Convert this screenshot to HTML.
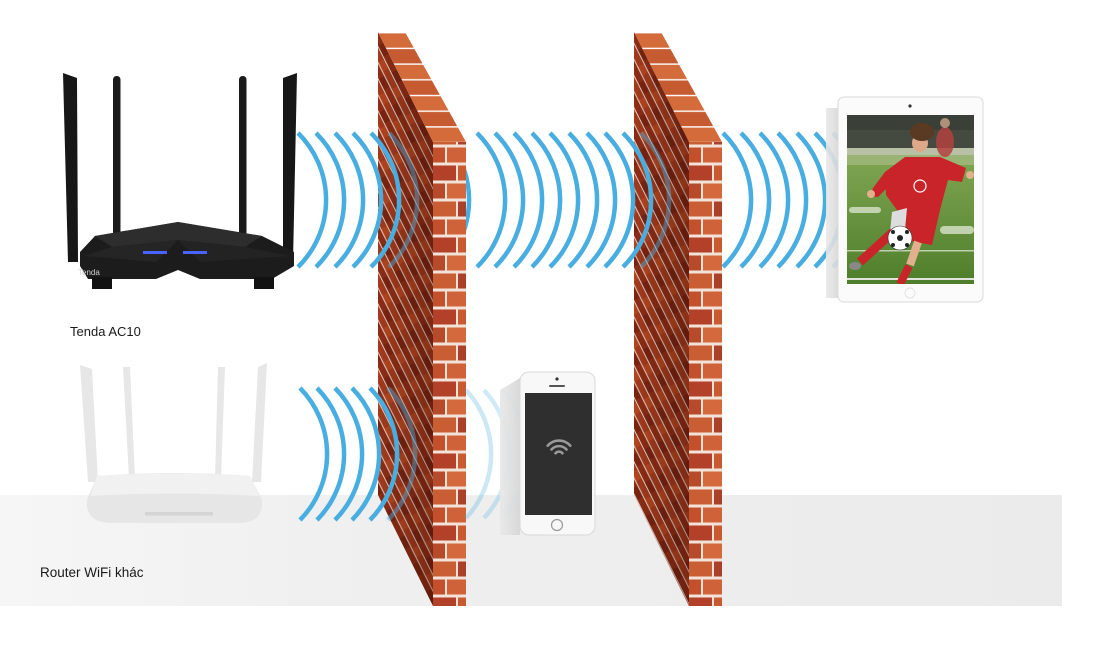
<!DOCTYPE html>
<html><head><meta charset="utf-8"><style>
html,body{margin:0;padding:0;background:#fff;}
svg{display:block;}
text{font-family:"Liberation Sans",Arial,sans-serif;}
</style></head><body>
<svg width="1099" height="645" viewBox="0 0 1099 645" xmlns="http://www.w3.org/2000/svg">
<defs>
  <linearGradient id="floor" x1="0" y1="0" x2="1" y2="0">
    <stop offset="0" stop-color="#f6f6f6"/>
    <stop offset="0.35" stop-color="#efefef"/>
    <stop offset="1" stop-color="#ebebeb"/>
  </linearGradient>
  <pattern id="fp" patternUnits="userSpaceOnUse" width="14.4" height="30" patternTransform="rotate(-26.57)">
    <rect width="14.4" height="30" fill="#a23a1c"/>
    <rect x="0" y="0" width="7.2" height="30" fill="#8c2d15"/>
    <rect x="0" y="0" width="7.2" height="12" fill="#7a2410"/>
    <rect x="7.2" y="15" width="7.2" height="10" fill="#b2451f"/>
    <rect x="0" y="0" width="0.9" height="30" fill="#fff" opacity="0.85"/>
    <rect x="7.2" y="0" width="0.9" height="30" fill="#fff" opacity="0.85"/>
  </pattern>
  <linearGradient id="fshade" x1="0" y1="0" x2="1" y2="0">
    <stop offset="0" stop-color="#000" stop-opacity="0"/>
    <stop offset="1" stop-color="#2a0500" stop-opacity="0.3"/>
  </linearGradient>
  <pattern id="tp" patternUnits="userSpaceOnUse" x="0" y="32" width="60" height="31.4">
    <rect width="60" height="31.4" fill="#fff"/>
    <rect y="1.4" width="60" height="14.3" fill="#d36c3a"/>
    <rect y="17.1" width="60" height="14.3" fill="#c65a30"/>
  </pattern>
  <pattern id="rb1" patternUnits="userSpaceOnUse" x="433" y="146" width="33" height="72">
    <rect width="33" height="72" fill="#f2e2d8"/>
    <rect x="0" y="1.5" width="12" height="15" fill="#c2502c"/>
    <rect x="14" y="1.5" width="19" height="15" fill="#cf6238"/>
    <rect x="0" y="19.5" width="23" height="15" fill="#b3412a"/>
    <rect x="25" y="19.5" width="8" height="15" fill="#c85a32"/>
    <rect x="0" y="37.5" width="12" height="15" fill="#b84a2c"/>
    <rect x="14" y="37.5" width="19" height="15" fill="#d46a3c"/>
    <rect x="0" y="55.5" width="23" height="15" fill="#c95e34"/>
    <rect x="25" y="55.5" width="8" height="15" fill="#a9402a"/>
  </pattern>
  <pattern id="rb2" patternUnits="userSpaceOnUse" x="689" y="146" width="33" height="72">
    <rect width="33" height="72" fill="#f2e2d8"/>
    <rect x="0" y="1.5" width="12" height="15" fill="#c2502c"/>
    <rect x="14" y="1.5" width="19" height="15" fill="#cf6238"/>
    <rect x="0" y="19.5" width="23" height="15" fill="#b3412a"/>
    <rect x="25" y="19.5" width="8" height="15" fill="#c85a32"/>
    <rect x="0" y="37.5" width="12" height="15" fill="#b84a2c"/>
    <rect x="14" y="37.5" width="19" height="15" fill="#d46a3c"/>
    <rect x="0" y="55.5" width="23" height="15" fill="#c95e34"/>
    <rect x="25" y="55.5" width="8" height="15" fill="#a9402a"/>
  </pattern>
  <clipPath id="c466"><rect x="466" y="0" width="300" height="645"/></clipPath>
  <clipPath id="scr"><rect x="847" y="115" width="127" height="169"/></clipPath>
  <linearGradient id="field" x1="0" y1="0" x2="0" y2="1">
    <stop offset="0" stop-color="#8fb25e"/>
    <stop offset="1" stop-color="#4e7e2b"/>
  </linearGradient>
  <linearGradient id="side" x1="0" y1="0" x2="1" y2="0">
    <stop offset="0" stop-color="#e8e8e8"/>
    <stop offset="1" stop-color="#d6d6d6"/>
  </linearGradient>
</defs>

<rect width="1099" height="645" fill="#fff"/>
<rect x="0" y="495" width="1062" height="111" fill="url(#floor)"/>

<!-- Tenda router -->
<g>
  <polygon points="63,73 77,78 78,262 68,262" fill="#171717"/>
  <polygon points="283,78 297,73 293,262 283,262" fill="#171717"/>
  <rect x="113" y="76" width="7.5" height="165" rx="3.5" fill="#1b1b1b"/>
  <rect x="239" y="76" width="7.5" height="165" rx="3.5" fill="#1b1b1b"/>
  <polygon points="80,252 95,236 178,222 262,236 294,252 294,266 272,279 200,279 178,270 156,279 88,279 80,266" fill="#1c1c1c"/>
  <polygon points="95,236 178,222 262,236 245,247 178,240 112,247" fill="#2d2d2d"/>
  <polygon points="178,240 245,247 290,256 200,262" fill="#232323"/>
  <polygon points="178,240 112,247 84,256 156,262" fill="#252525"/>
  <rect x="92" y="277" width="20" height="12" fill="#121212"/>
  <rect x="254" y="277" width="20" height="12" fill="#121212"/>
  <rect x="143" y="251" width="24" height="3" fill="#4a63ff"/>
  <rect x="183" y="251" width="24" height="3" fill="#4a63ff"/>
  <text x="78" y="275" font-size="8" fill="#d0d0d0" font-family="Liberation Serif,serif">Tenda</text>
</g>
<text x="70" y="336" font-size="13" fill="#1a1a1a">Tenda AC10</text>

<!-- Ghost router -->
<g>
  <polygon points="80,365 92,369 98,482 88,482" fill="#e7e7e7"/>
  <polygon points="123,367 130,367 135,478 129,478" fill="#e7e7e7"/>
  <polygon points="218,367 225,367 221,478 215,478" fill="#e7e7e7"/>
  <polygon points="258,367 267,363 261,482 252,482" fill="#e7e7e7"/>
  <path d="M97,476 Q174,470 250,476 L262,500 Q264,523 238,523 L112,523 Q85,523 87,500 Z" fill="#e6e6e6"/>
  <path d="M97,476 Q174,471 250,476 L259,496 Q174,491 90,496 Z" fill="#f1f1f1"/>
  <rect x="145" y="512" width="68" height="3.5" fill="#d4d4d4"/>
</g>
<text x="40" y="577" font-size="13.5" fill="#1a1a1a">Router WiFi khác</text>

<!-- Wall 1 -->
<g>
  <polygon points="378,32 405,32 466,142 433,142" fill="url(#tp)"/>
  <polygon points="378,32 433,142 433,606 378,495" fill="url(#fp)"/>
  <polygon points="378,32 433,142 433,606 378,495" fill="url(#fshade)"/>
  <rect x="433" y="142" width="33" height="464" fill="url(#rb1)"/>
</g>
<!-- Wall 2 -->
<g>
  <polygon points="634,32 661,32 722,142 689,142" fill="url(#tp)"/>
  <polygon points="634,32 689,142 689,606 634,495" fill="url(#fp)"/>
  <polygon points="634,32 689,142 689,606 634,495" fill="url(#fshade)"/>
  <rect x="689" y="142" width="33" height="464" fill="url(#rb2)"/>
</g>

<!-- Waves -->
<g fill="none" stroke="#48ade0" stroke-width="4.5">
  <!-- group 1 -->
  <path d="M298,133 A94,94 0 0 1 298,267"/>
  <path d="M316,133 A94,94 0 0 1 316,267"/>
  <path d="M335,133 A94,94 0 0 1 335,267"/>
  <path d="M353,133 A94,94 0 0 1 353,267"/>
  <path d="M371,133 A94,94 0 0 1 371,267"/>
  <path d="M389,133 A94,94 0 0 1 389,267" opacity="0.45"/>
  <!-- group 2 -->
  <path d="M441,133 A94,94 0 0 1 441,267" clip-path="url(#c466)"/>
  <path d="M477,133 A94,94 0 0 1 477,267"/>
  <path d="M495,133 A94,94 0 0 1 495,267"/>
  <path d="M514,133 A94,94 0 0 1 514,267"/>
  <path d="M532,133 A94,94 0 0 1 532,267"/>
  <path d="M550,133 A94,94 0 0 1 550,267"/>
  <path d="M569,133 A94,94 0 0 1 569,267"/>
  <path d="M587,133 A94,94 0 0 1 587,267"/>
  <path d="M605,133 A94,94 0 0 1 605,267"/>
  <path d="M623,133 A94,94 0 0 1 623,267"/>
  <path d="M641,133 A94,94 0 0 1 641,267" opacity="0.45"/>
  <!-- group 3 -->
  <path d="M723,133 A94,94 0 0 1 723,267"/>
  <path d="M741,133 A94,94 0 0 1 741,267"/>
  <path d="M760,133 A94,94 0 0 1 760,267"/>
  <path d="M778,133 A94,94 0 0 1 778,267"/>
  <path d="M797,133 A94,94 0 0 1 797,267"/>
  <path d="M815,133 A94,94 0 0 1 815,267"/>
  <path d="M833,133 A94,94 0 0 1 833,267"/>
  <!-- group 4 -->
  <path d="M300,388 A94,94 0 0 1 300,520"/>
  <path d="M317,388 A94,94 0 0 1 317,520"/>
  <path d="M335,388 A94,94 0 0 1 335,520"/>
  <path d="M352,388 A94,94 0 0 1 352,520"/>
  <path d="M370,388 A94,94 0 0 1 370,520"/>
  <path d="M388,388 A94,94 0 0 1 388,520" opacity="0.45"/>
  <path d="M466,390 A94,94 0 0 1 466,518" opacity="0.28"/>
  <path d="M484,390 A94,94 0 0 1 484,518" opacity="0.25"/>
  <path d="M502,390 A94,94 0 0 1 502,518" opacity="0.22"/>
</g>

<!-- Phone -->
<g>
  <polygon points="500,390 520,378 520,535 500,535" fill="url(#side)" opacity="0.92"/>
  <rect x="520" y="372" width="75" height="163" rx="9" fill="#f8f8f8" stroke="#d8d8d8" stroke-width="1"/>
  <rect x="525" y="393" width="67" height="122" fill="#2f2f2f"/>
  <circle cx="557" cy="379" r="1.6" fill="#333"/>
  <rect x="549" y="385" width="16" height="2" rx="1" fill="#555"/>
  <circle cx="557" cy="525" r="5.5" fill="none" stroke="#999" stroke-width="1.2"/>
  <g fill="none" stroke="#9a9a9a" stroke-width="2.6" stroke-linecap="round">
    <path d="M547.7,445.7 A15,15 0 0 1 570.3,445.7"/>
    <path d="M551.5,449.5 A10,10 0 0 1 566.5,449.5"/>
    <path d="M555.5,453.3 A4.5,4.5 0 0 1 562.5,453.3"/>
  </g>
</g>

<!-- Tablet -->
<g>
  <rect x="826" y="108" width="14" height="190" fill="url(#side)" opacity="0.9"/>
  <rect x="838" y="97" width="145" height="205" rx="6" fill="#fbfbfb" stroke="#dadada" stroke-width="1"/>
  <circle cx="910" cy="106" r="1.6" fill="#333"/>
  <circle cx="910" cy="293" r="5" fill="none" stroke="#e2e2e2" stroke-width="1"/>
  <g clip-path="url(#scr)">
    <rect x="847" y="115" width="127" height="169" fill="url(#field)"/>
    <rect x="847" y="115" width="127" height="35" fill="#3a3f37"/>
    <rect x="847" y="130" width="127" height="18" fill="#4b5245" opacity="0.6"/>
    <rect x="847" y="148" width="127" height="7" fill="#b8c0a6"/>
    <rect x="847" y="155" width="127" height="10" fill="#a7bb84" opacity="0.7"/>
    <rect x="849" y="207" width="32" height="6" rx="3" fill="#e8eee0" opacity="0.7"/>
    <rect x="940" y="226" width="34" height="8" rx="4" fill="#e8eee0" opacity="0.7"/>
    <rect x="847" y="250" width="127" height="1.5" fill="#e8eee0" opacity="0.7"/>
    <rect x="847" y="278" width="127" height="2" fill="#f0f0f0" opacity="0.9"/>
    <ellipse cx="945" cy="142" rx="9" ry="15" fill="#b2413f" opacity="0.85"/>
    <circle cx="945" cy="123" r="5" fill="#c9a58a" opacity="0.8"/>
    <!-- player -->
    <polygon points="885,172 905,157 940,157 966,168 962,182 948,180 940,210 932,245 905,240 897,210 886,195" fill="#c8242a"/>
    <polygon points="885,172 873,188 870,196 878,197 891,184" fill="#c8242a"/>
    <circle cx="871" cy="194" r="4" fill="#e3b08e"/>
    <circle cx="970" cy="175" r="4" fill="#e3b08e"/>
    <ellipse cx="920" cy="143" rx="8" ry="9" fill="#e0a88a"/>
    <ellipse cx="922" cy="132" rx="12" ry="9" fill="#5a3a22"/>
    <circle cx="920" cy="186" r="6" fill="none" stroke="#fff" stroke-width="1.2"/>
    <polygon points="892,212 907,208 905,230 890,232" fill="#ddd"/>
    <line x1="893" y1="232" x2="860" y2="262" stroke="#c8242a" stroke-width="9"/>
    <ellipse cx="855" cy="266" rx="6" ry="4" fill="#888"/>
    <line x1="918" y1="242" x2="910" y2="265" stroke="#e3b08e" stroke-width="8"/>
    <line x1="909" y1="266" x2="900" y2="284" stroke="#c8242a" stroke-width="8"/>
    <circle cx="900" cy="238" r="12" fill="#fff" stroke="#333" stroke-width="0.6"/>
    <circle cx="900" cy="238" r="3" fill="#222"/>
    <circle cx="893" cy="232" r="2" fill="#222"/>
    <circle cx="907" cy="232" r="2" fill="#222"/>
    <circle cx="893" cy="245" r="2" fill="#222"/>
    <circle cx="907" cy="245" r="2" fill="#222"/>
  </g>
</g>
</svg>
</body></html>
